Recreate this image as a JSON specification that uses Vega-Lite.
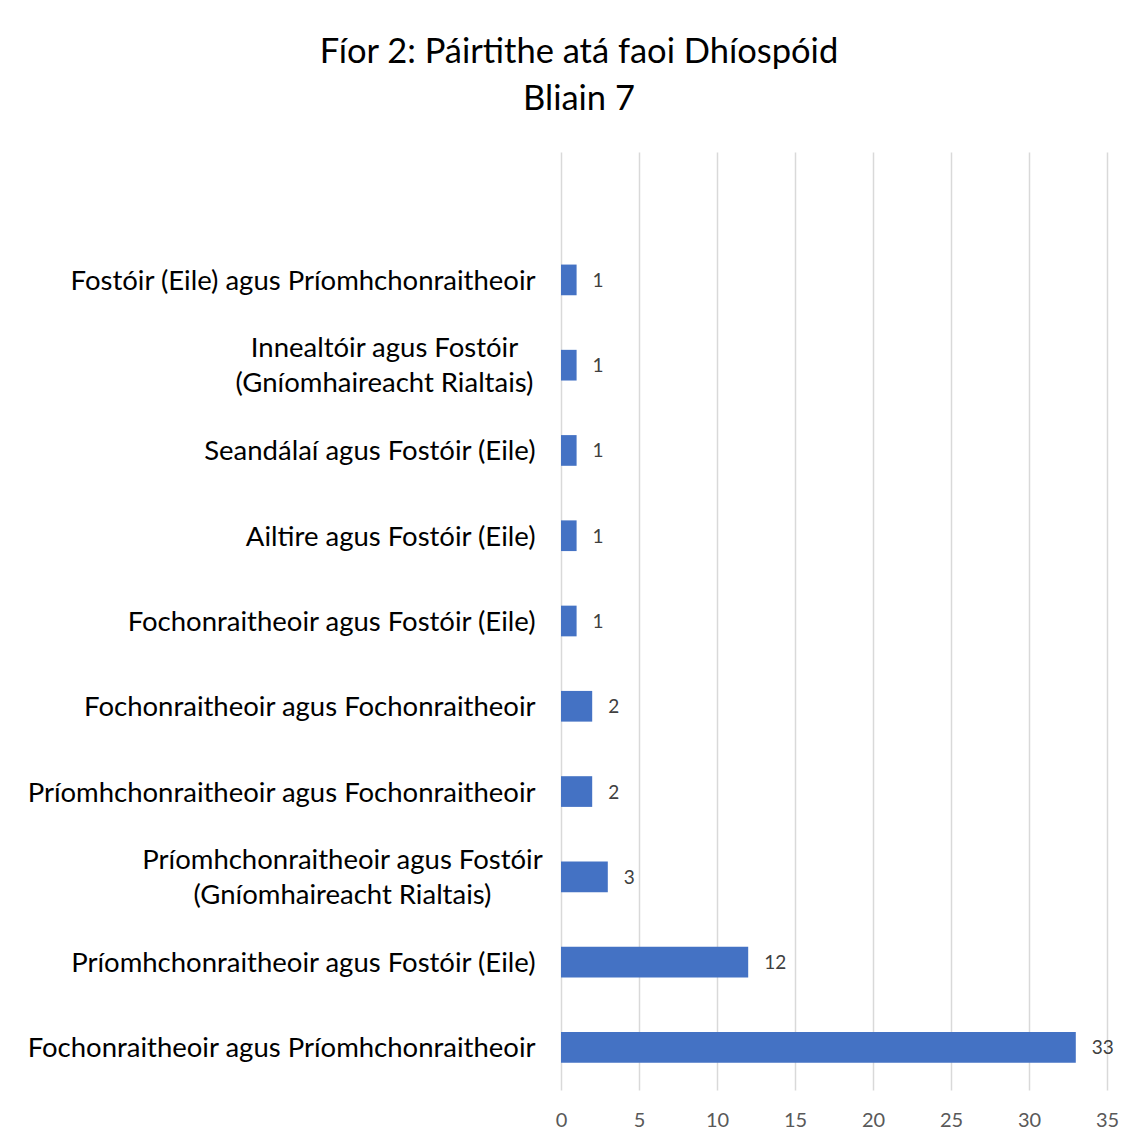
{
  "$schema": "https://vega.github.io/schema/vega-lite/v6.json",
  "autosize": "none",
  "width": 546,
  "height": 938,
  "padding": {"left": 561, "top": 152, "right": 37, "bottom": 54},
  "background": "white",
  "title": {
    "text": ["Fíor 2: Páirtithe atá faoi Dhíospóid", "Bliain 7"],
    "font": "Lato",
    "fontSize": 34.5,
    "fontWeight": "normal",
    "color": "#000000",
    "lineHeight": 47,
    "anchor": "middle",
    "dx": -255,
    "offset": 35
  },
  "data": {
    "values": [
      {"party": "Fostóir (Eile) agus Príomhchonraitheoir", "count": 1},
      {"party": "Innealtóir agus Fostóir|(Gníomhaireacht Rialtais)", "count": 1},
      {"party": "Seandálaí agus Fostóir (Eile)", "count": 1},
      {"party": "Ailtire agus Fostóir (Eile)", "count": 1},
      {"party": "Fochonraitheoir agus Fostóir (Eile)", "count": 1},
      {"party": "Fochonraitheoir agus Fochonraitheoir", "count": 2},
      {"party": "Príomhchonraitheoir agus Fochonraitheoir", "count": 2},
      {"party": "Príomhchonraitheoir agus Fostóir|(Gníomhaireacht Rialtais)", "count": 3},
      {"party": "Príomhchonraitheoir agus Fostóir (Eile)", "count": 12},
      {"party": "Fochonraitheoir agus Príomhchonraitheoir", "count": 33}
    ]
  },
  "encoding": {
    "y": {
      "field": "party",
      "type": "nominal",
      "sort": null,
      "scale": {
        "domain": [" ", "Fostóir (Eile) agus Príomhchonraitheoir", "Innealtóir agus Fostóir|(Gníomhaireacht Rialtais)", "Seandálaí agus Fostóir (Eile)", "Ailtire agus Fostóir (Eile)", "Fochonraitheoir agus Fostóir (Eile)", "Fochonraitheoir agus Fochonraitheoir", "Príomhchonraitheoir agus Fochonraitheoir", "Príomhchonraitheoir agus Fostóir|(Gníomhaireacht Rialtais)", "Príomhchonraitheoir agus Fostóir (Eile)", "Fochonraitheoir agus Príomhchonraitheoir"],
        "paddingInner": 0.64,
        "paddingOuter": 0.32
      },
      "axis": {
        "title": null,
        "domain": false,
        "ticks": false,
        "grid": false,
        "labelFont": "Lato",
        "labelFontSize": 27.5,
        "labelColor": "#000000",
        "labelPadding": {"condition": [
          {"test": "indexof(datum.value, 'Innealt') == 0", "value": 177},
          {"test": "datum.value == 'Príomhchonraitheoir agus Fostóir|(Gníomhaireacht Rialtais)'", "value": 219}
        ], "value": 26},
        "labelAlign": {"condition": {"test": "indexof(datum.value, '|') >= 0", "value": "center"}, "value": "right"},
        "labelLimit": 700,
        "labelLineHeight": 35,
        "labelOffset": {"condition": {"test": "indexof(datum.value, '|') >= 0", "value": -16}, "value": 2},
        "labelExpr": "split(datum.value, '|')"
      }
    },
    "x": {
      "field": "count",
      "type": "quantitative",
      "scale": {"domain": [0, 35], "nice": false},
      "axis": {
        "title": null,
        "values": [0, 5, 10, 15, 20, 25, 30, 35],
        "domain": false,
        "ticks": false,
        "grid": true,
        "gridColor": "#d9d9d9",
        "gridWidth": 1.5,
        "labelFlush": false,
        "labelFont": "Lato",
        "labelFontSize": 20,
        "labelColor": "#595959",
        "labelPadding": 20
      }
    }
  },
  "layer": [
    {"mark": {"type": "bar", "color": "#4472C4"}},
    {
      "mark": {"type": "text", "align": "left", "dx": 16, "dy": 1, "font": "Lato", "fontSize": 19, "color": "#404040"},
      "encoding": {"text": {"field": "count", "type": "quantitative"}}
    }
  ],
  "config": {"view": {"stroke": null}}
}
